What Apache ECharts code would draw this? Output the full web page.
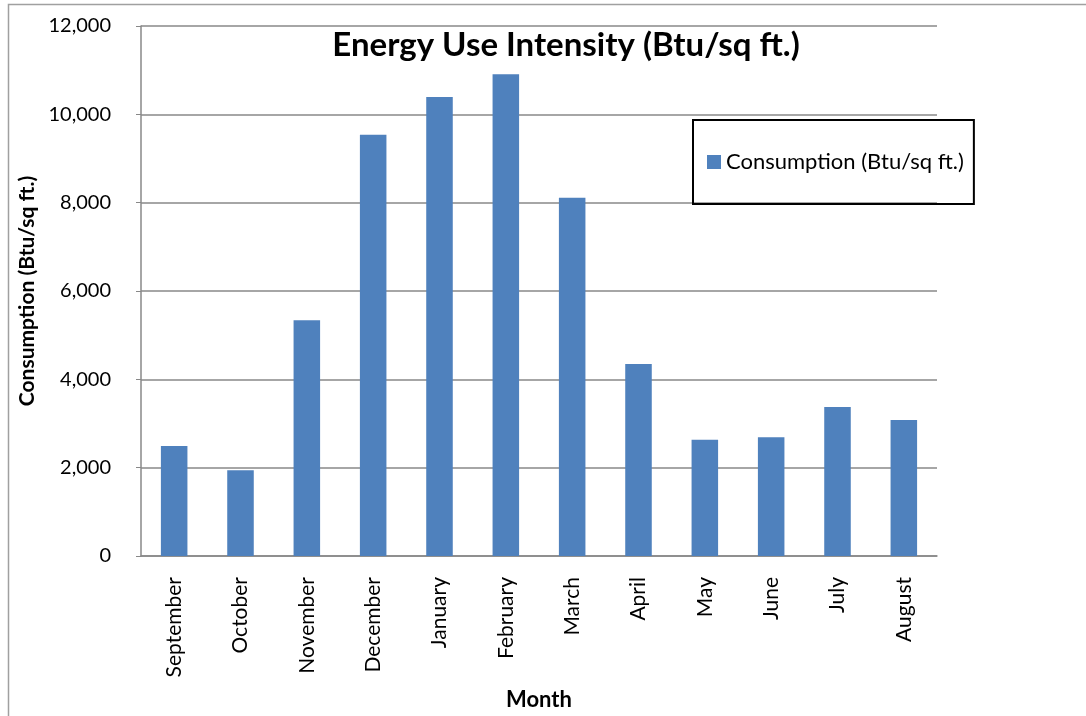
<!DOCTYPE html>
<html>
<head>
<meta charset="utf-8">
<script src="https://cdn.jsdelivr.net/npm/echarts@6/dist/echarts.min.js"></script>
<style>
html,body{margin:0;padding:0;background:#fff;}
#chart{width:1086px;height:716px;}
</style>
</head>
<body>
<div id="chart"></div>
<script>
const months = ['September','October','November','December','January','February','March','April','May','June','July','August'];
const consumption = [2490, 1940, 5340, 9540, 10390, 10910, 8110, 4350, 2630, 2690, 3375, 3080];
const yTicks = [0, 2000, 4000, 6000, 8000, 10000, 12000];

const chart = echarts.init(document.getElementById('chart'));
const font = 'Lato, "Open Sans", sans-serif';
chart.setOption({
  animation: false,
  backgroundColor: '#ffffff',
  title: {
    text: 'Energy Use Intensity (Btu/sq ft.)',
    left: 561, top: 24, textAlign: 'center',
    textStyle: {fontFamily: font, fontSize: 33, fontWeight: 'bold', color: '#000'}
  },
  legend: {
    left: 693, top: 120,
    padding: [31, 10, 31, 14],
    borderColor: '#000', borderWidth: 2,
    itemWidth: 14, itemHeight: 14, itemGap: 0,
    icon: 'rect',
    textStyle: {fontFamily: font, fontSize: 22, color: '#000'},
    data: ['Consumption (Btu/sq ft.)']
  },
  graphic: [{
    type: 'rect', silent: true, z: -1,
    shape: {x: 8.5, y: 4.5, width: 1200, height: 800},
    style: {fill: 'none', stroke: '#a0a0a0', lineWidth: 1.5}
  }],
  grid: {left: 141, top: 26, right: 149, bottom: 156, containLabel: false},
  xAxis: {
    type: 'category', data: months,
    name: 'Month', nameLocation: 'middle', nameGap: 133,
    nameTextStyle: {fontFamily: font, fontSize: 22, fontWeight: 'bold', color: '#000'},
    axisLine: {lineStyle: {color: '#888', width: 1.5}},
    axisTick: {show: false},
    axisLabel: {rotate: 90, margin: 21, interval: 0, fontFamily: font, fontSize: 21, color: '#000'}
  },
  yAxis: {
    type: 'value', min: 0, max: 12000, interval: 2000,
    name: 'Consumption (Btu/sq ft.)', nameLocation: 'middle', nameGap: 103,
    nameTextStyle: {fontFamily: font, fontSize: 21, fontWeight: 'bold', color: '#000'},
    axisLine: {show: true, lineStyle: {color: '#888', width: 1.5}},
    axisTick: {show: true, length: 5, lineStyle: {color: '#888'}},
    splitLine: {lineStyle: {color: '#888', width: 1.5}},
    axisLabel: {
      margin: 30, fontFamily: font, fontSize: 20, color: '#000',
      formatter: v => yTicks.includes(v) ? v.toLocaleString('en-US') : ''
    }
  },
  series: [{
    name: 'Consumption (Btu/sq ft.)',
    type: 'bar', data: consumption,
    barCategoryGap: '60%',
    itemStyle: {color: '#4F81BD'}
  }]
});
</script>
</body>
</html>
